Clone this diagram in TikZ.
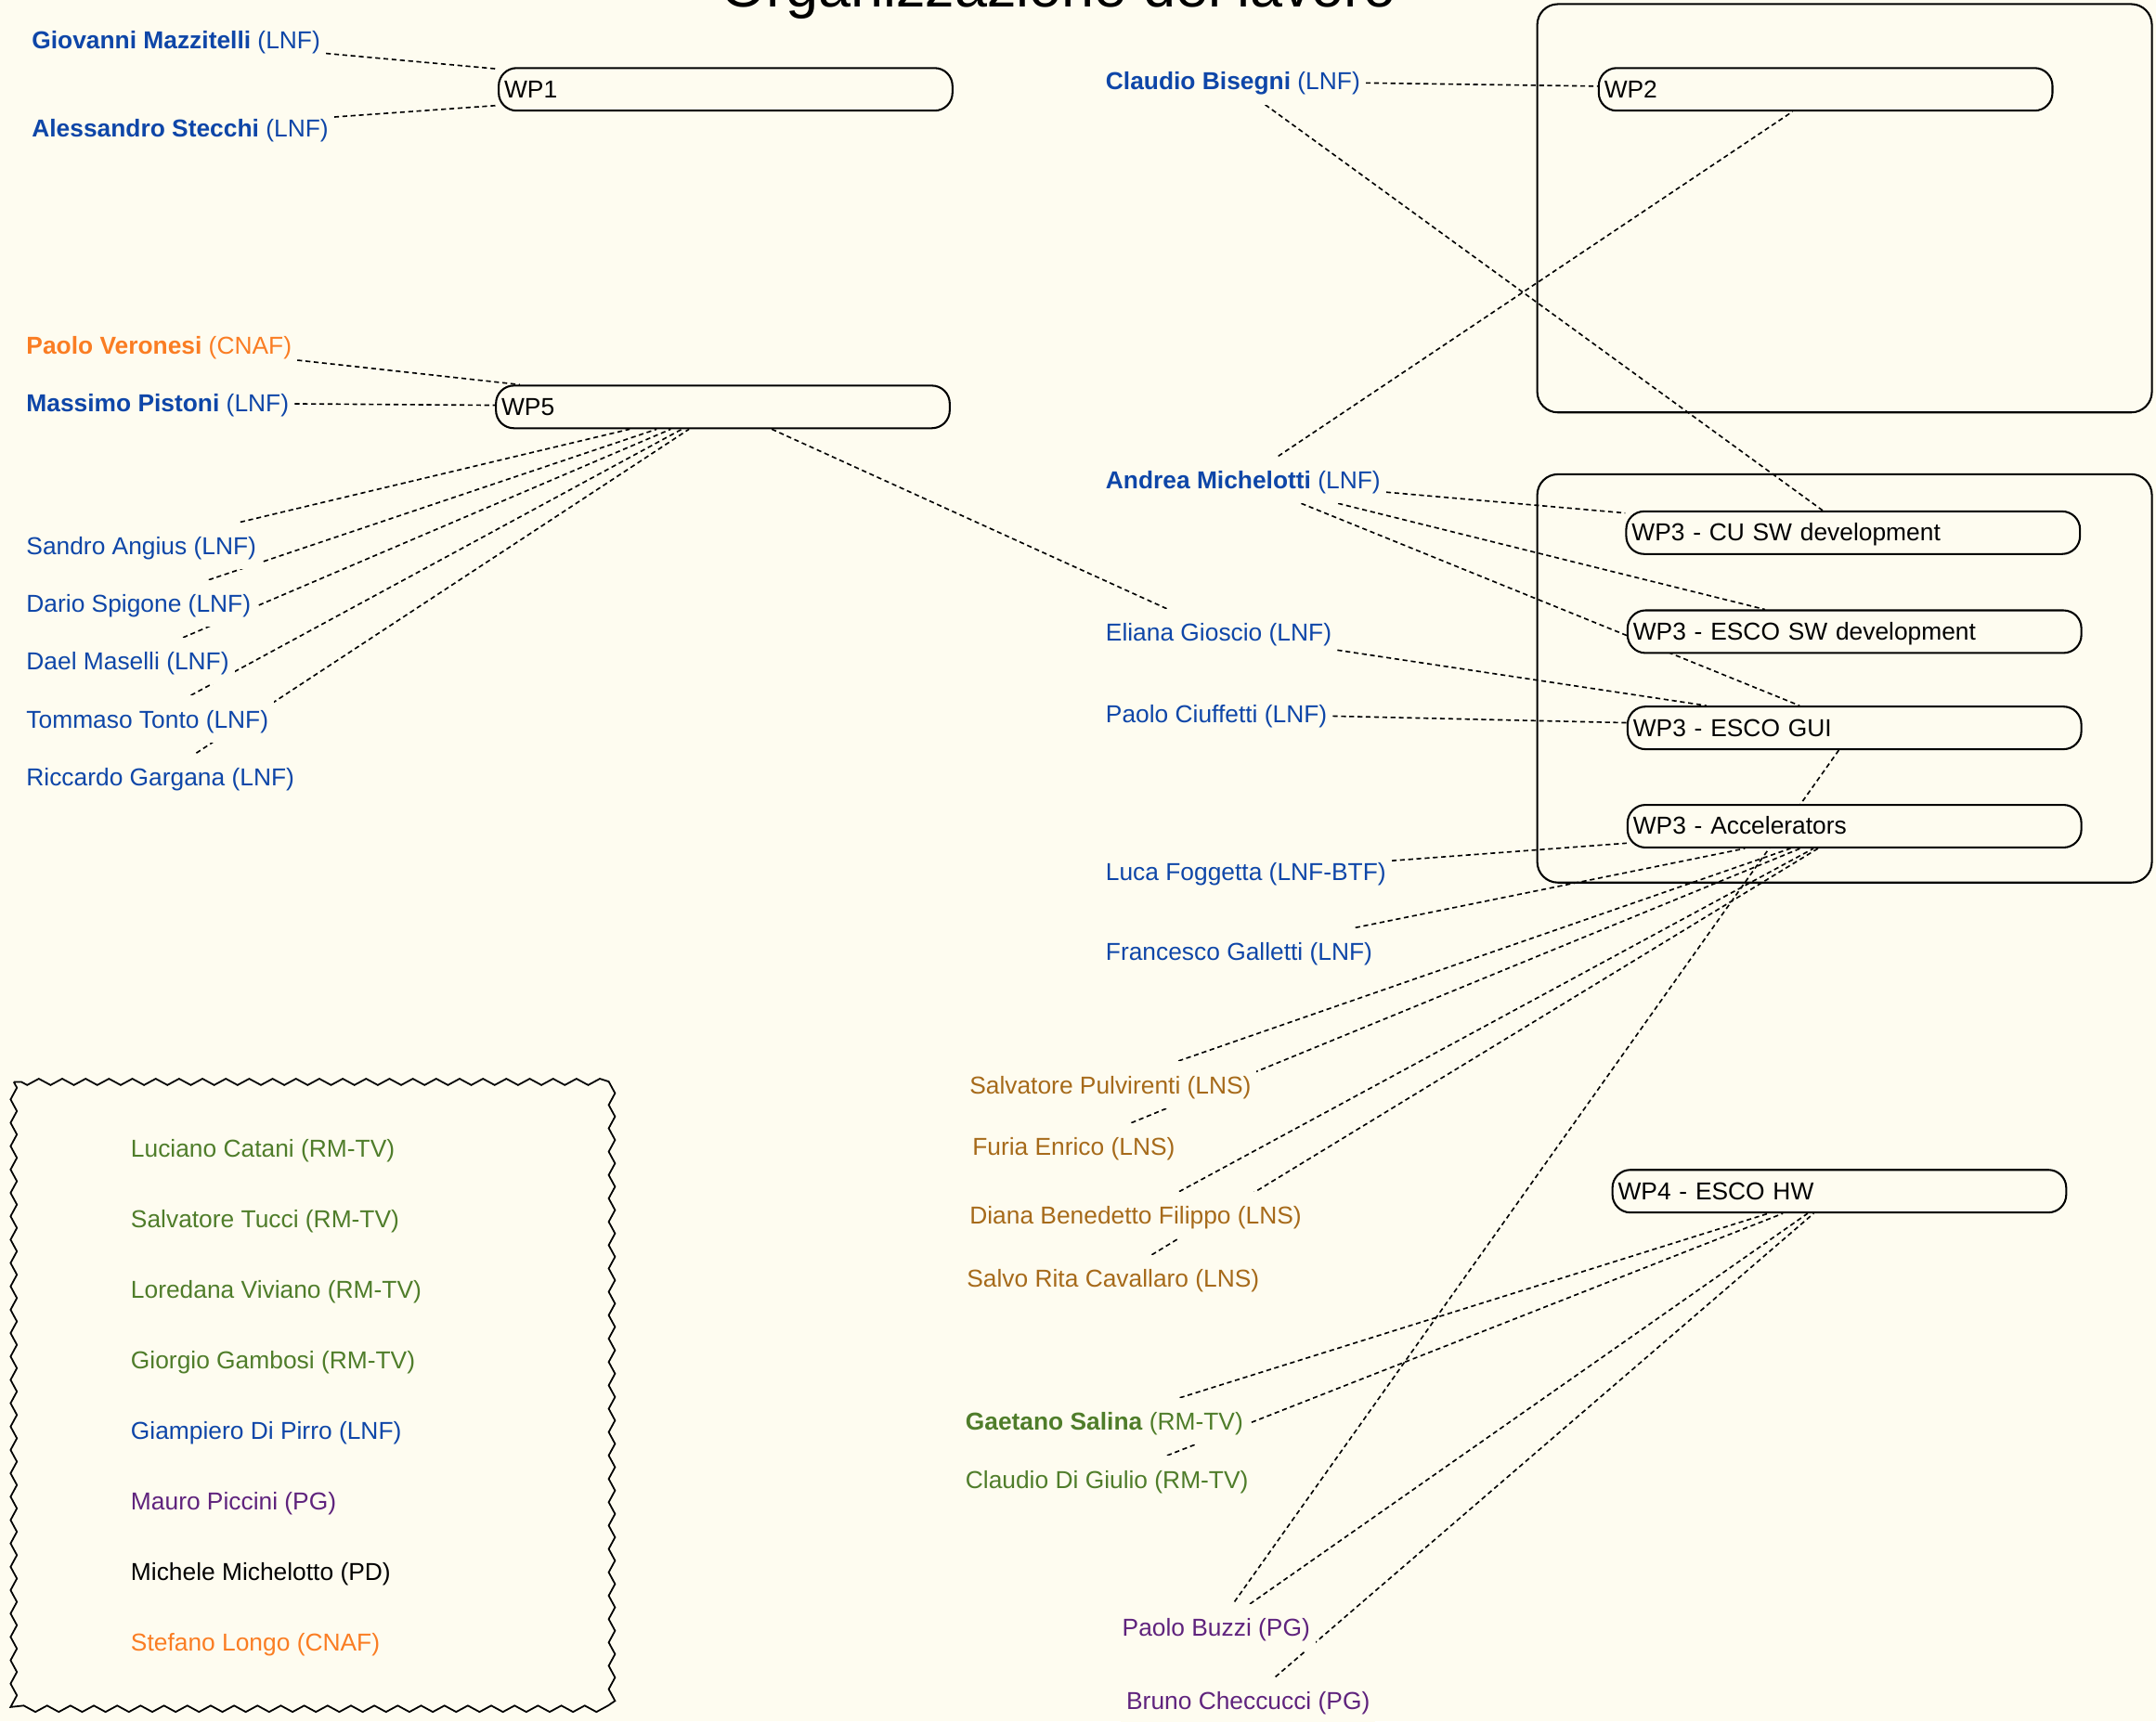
\documentclass[tikz,border=0pt]{standalone}
\usepackage{fontspec}
\setmainfont{Liberation Sans}
\usetikzlibrary{decorations.pathmorphing}

\definecolor{paper}{RGB}{254,252,240}
\definecolor{lnf}{RGB}{14,70,168}
\definecolor{cnaf}{RGB}{250,125,35}
\definecolor{lns}{RGB}{166,106,26}
\definecolor{rmtv}{RGB}{79,125,42}
\definecolor{pg}{RGB}{95,35,125}

\pgfdeclarelayer{back}
\pgfdeclarelayer{links}
\pgfsetlayers{back,links,main}

\newcommand{\namefont}{\fontsize{17.8}{20}\selectfont}

\tikzset{
  who/.style={anchor=west, fill=paper, inner xsep=4pt, inner ysep=0pt, text height=15pt, text depth=2pt, minimum height=34pt, font=\namefont},
  wp/.style={anchor=west, draw, line width=1.4pt, fill=paper, rounded corners=13pt, text width=322pt, align=left, inner xsep=4pt, inner ysep=0pt, text height=14.5pt, text depth=2.5pt, minimum height=31pt, font=\namefont},
  link/.style={line width=1.1pt, dash pattern=on 3.5pt off 2.5pt},
  wpgroup/.style={line width=1.4pt, rounded corners=15pt},
}

\begin{document}
\begin{tikzpicture}[x=1pt,y=-1pt]

\begin{pgfonlayer}{back}
\fill[paper] (0,0) rectangle (1568,1252);
\end{pgfonlayer}
\useasboundingbox (0,0) rectangle (1568,1252);

\node (title) at (770,5) [anchor=base, font=\fontsize{42.5}{48}\selectfont] {Organizzazione del lavoro};

\draw[wpgroup] (1118,3) rectangle (1565,300);
\draw[wpgroup] (1118,345) rectangle (1565,642);
\draw[line width=1.2pt, decorate, decoration={zigzag, segment length=17pt, amplitude=2.3pt}] (10,787) rectangle (445,1243);

\node[wp] (wp1) at (362,65) {WP1};
\node[wp] (wp2) at (1162,65) {WP2};
\node[wp] (wp5) at (360,296) {WP5};
\node[wp] (cusw) at (1182,387.5) {WP3 - CU SW development};
\node[wp] (escosw) at (1183,459.5) {WP3 - ESCO SW development};
\node[wp] (escogui) at (1183,529.5) {WP3 - ESCO GUI};
\node[wp] (accel) at (1183,601) {WP3 - Accelerators};
\node[wp] (escohw) at (1172,866.5) {WP4 - ESCO HW};

\node[who, text=lnf] (mazzitelli) at (19,29) {\textbf{Giovanni Mazzitelli} (LNF)};
\node[who, text=lnf] (stecchi) at (19,93) {\textbf{Alessandro Stecchi} (LNF)};
\node[who, text=cnaf] (veronesi) at (15,251) {\textbf{Paolo Veronesi} (CNAF)};
\node[who, text=lnf] (pistoni) at (15,293) {\textbf{Massimo Pistoni} (LNF)};
\node[who, text=lnf] (angius) at (15,397) {Sandro Angius (LNF)};
\node[who, text=lnf] (spigone) at (15,439) {Dario Spigone (LNF)};
\node[who, text=lnf] (maselli) at (15,481) {Dael Maselli (LNF)};
\node[who, text=lnf] (tonto) at (15,523) {Tommaso Tonto (LNF)};
\node[who, text=lnf] (gargana) at (15,565) {Riccardo Gargana (LNF)};

\node[who, text=lnf] (bisegni) at (800,59) {\textbf{Claudio Bisegni} (LNF)};
\node[who, text=lnf] (michelotti) at (800,349) {\textbf{Andrea Michelotti} (LNF)};
\node[who, text=lnf] (gioscio) at (800,460) {Eliana Gioscio (LNF)};
\node[who, text=lnf] (ciuffetti) at (800,519) {Paolo Ciuffetti (LNF)};
\node[who, text=lnf] (foggetta) at (800,634) {Luca Foggetta (LNF-BTF)};
\node[who, text=lnf] (galletti) at (800,692) {Francesco Galletti (LNF)};
\node[who, text=lns] (pulvirenti) at (701,789) {Salvatore Pulvirenti (LNS)};
\node[who, text=lns] (enrico) at (703,834) {Furia Enrico (LNS)};
\node[who, text=lns] (benedetto) at (701,884) {Diana Benedetto Filippo (LNS)};
\node[who, text=lns] (cavallaro) at (699,930) {Salvo Rita Cavallaro (LNS)};
\node[who, text=rmtv] (salina) at (698,1034) {\textbf{Gaetano Salina} (RM-TV)};
\node[who, text=rmtv] (digiulio) at (698,1076) {Claudio Di Giulio (RM-TV)};
\node[who, text=pg] (buzzi) at (812,1184) {Paolo Buzzi (PG)};
\node[who, text=pg] (checcucci) at (815,1237) {Bruno Checcucci (PG)};

\foreach \txt/\col [count=\i] in {Luciano Catani (RM-TV)/rmtv, Salvatore Tucci (RM-TV)/rmtv, Loredana Viviano (RM-TV)/rmtv, Giorgio Gambosi (RM-TV)/rmtv, Giampiero Di Pirro (LNF)/lnf, Mauro Piccini (PG)/pg, Michele Michelotto (PD)/black, Stefano Longo (CNAF)/cnaf}
  \node[who, fill=none, text=\col] (guest\i) at (91,{835+51.4*(\i-1)}) {\txt};

\begin{pgfonlayer}{links}
\foreach \a/\b in {mazzitelli/wp1, stecchi/wp1, veronesi/wp5, pistoni/wp5, angius/wp5, spigone/wp5, maselli/wp5, tonto/wp5, gargana/wp5, wp5/gioscio, bisegni/wp2, bisegni/cusw, michelotti/wp2, michelotti/cusw, michelotti/escosw, michelotti/escogui, gioscio/escogui, ciuffetti/escogui, foggetta/accel, galletti/accel, pulvirenti/accel, enrico/accel, benedetto/accel, cavallaro/accel, escogui/buzzi, salina/escohw, digiulio/escohw, buzzi/escohw, checcucci/escohw}
  \draw[link] (\a) -- (\b);
\end{pgfonlayer}

\end{tikzpicture}
\end{document}
